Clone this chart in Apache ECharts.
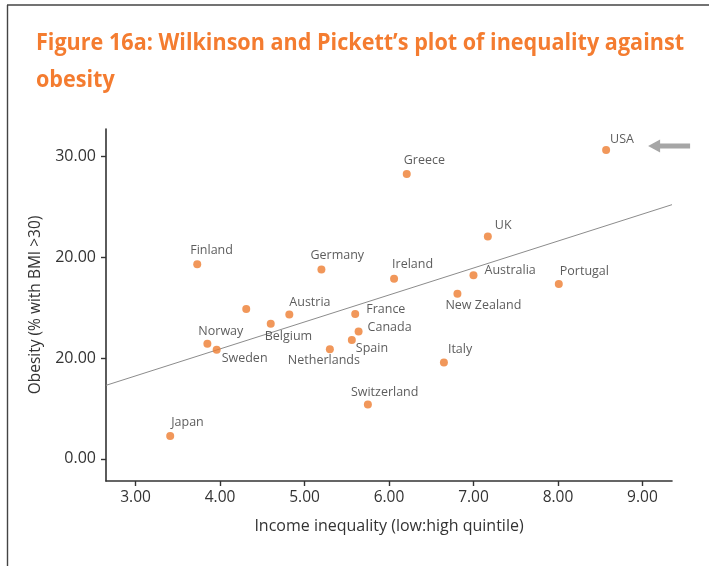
<!DOCTYPE html>
<html><head><meta charset="utf-8">
<script src="https://cdn.jsdelivr.net/npm/echarts@6/dist/echarts.min.js"></script>
<style>html,body{margin:0;padding:0;background:#fff}#c{width:709px;height:566px}</style>
</head><body><div id="c"></div>
<script>
// ---- data ----
const countries = ['USA','Greece','UK','Finland','Germany','Ireland','Australia','Portugal','New Zealand','','Austria','France','Belgium','Canada','Spain','Norway','Sweden','Netherlands','Italy','Switzerland','Japan'];
const income    = [8.57, 6.21, 7.17, 3.73, 5.20, 6.06, 7.00, 8.01, 6.81, 4.31, 4.82, 5.60, 4.60, 5.64, 5.56, 3.85, 3.96, 5.30, 6.65, 5.75, 3.41];
const obesity   = [30.66, 28.27, 22.08, 19.33, 18.80, 17.87, 18.24, 17.35, 16.39, 14.87, 14.33, 14.37, 13.41, 12.64, 11.79, 11.42, 10.82, 10.89, 9.56, 5.39, 2.28];
const xTickValues = [3, 4, 5, 6, 7, 8, 9];
const xTickLabels = ['3.00','4.00','5.00','6.00','7.00','8.00','9.00'];
const yTickValues = [0, 10, 20, 30];
const yTickLabels = ['0.00','20.00','20.00','30.00'];
const titleLines = ['Figure 16a: Wilkinson and Pickett\u2019s plot of inequality against', 'obesity'];
const xAxisName = 'Income inequality (low:high quintile)';
const yAxisName = 'Obesity (% with BMI >30)';

// ---- layout (label offsets from point centre, px) ----
const labelOffsets = {
  'USA':[4,-11], 'Greece':[-3,-14], 'UK':[7,-11], 'Finland':[-7,-14], 'Germany':[-11,-14],
  'Ireland':[-2,-14], 'Australia':[11,-5], 'Portugal':[1,-13], 'New Zealand':[-12,12],
  'Austria':[0,-12], 'France':[11,-5], 'Belgium':[-6,13], 'Canada':[9,-4], 'Spain':[4,8],
  'Norway':[-9,-12], 'Sweden':[5,9], 'Netherlands':[-42,11], 'Italy':[4,-13],
  'Switzerland':[-17,-12], 'Japan':[1,-13], '':[0,0]
};
const X_MIN = 2.65, X_MAX = 9.35, Y_MIN = -2.2, Y_MAX = 32.75;

// least-squares trend line
const n = income.length;
const mx = income.reduce((a,b)=>a+b,0)/n, my = obesity.reduce((a,b)=>a+b,0)/n;
let sxy = 0, sxx = 0;
for (let i=0;i<n;i++){ sxy += (income[i]-mx)*(obesity[i]-my); sxx += (income[i]-mx)**2; }
const slope = sxy/sxx, icpt = my - slope*mx;

const pts = income.map((x,i)=>({
  value:[x, obesity[i]], name: countries[i],
  label:{ show: countries[i] !== '', offset: labelOffsets[countries[i]] }
}));

const FONT = '"Open Sans", "Noto Sans", sans-serif';
const chart = echarts.init(document.getElementById('c'), null, {renderer:'canvas'});
chart.setOption({
  animation:false,
  backgroundColor:'#fff',
  grid:{left:106, right:37, top:129, bottom:85, containLabel:false},
  xAxis:{
    type:'value', min:X_MIN, max:X_MAX,
    name:xAxisName, nameLocation:'middle', nameGap:37,
    nameTextStyle:{fontFamily:FONT, fontSize:16, color:'#333'},
    axisLine:{show:true, onZero:false, lineStyle:{color:'#333', width:1.6}},
    axisTick:{show:true, customValues:xTickValues, length:5, lineStyle:{color:'#333', width:1.4}},
    axisLabel:{customValues:xTickValues, formatter:(v)=>xTickLabels[xTickValues.indexOf(Math.round(v))] || '', fontFamily:FONT, fontSize:15.5, color:'#333', margin:9},
    splitLine:{show:false}
  },
  yAxis:{
    type:'value', min:Y_MIN, max:Y_MAX,
    name:yAxisName, nameLocation:'middle', nameGap:62, nameRotate:90,
    nameTextStyle:{fontFamily:FONT, fontSize:15.5, color:'#333'},
    axisLine:{show:true, onZero:false, lineStyle:{color:'#333', width:1.6}},
    axisTick:{show:true, customValues:yTickValues, length:5, lineStyle:{color:'#333', width:1.4}},
    axisLabel:{customValues:yTickValues, formatter:(v)=>yTickLabels[yTickValues.indexOf(Math.round(v))] || '', fontFamily:FONT, fontSize:16, color:'#333', margin:10},
    splitLine:{show:false}
  },
  series:[
    {
      type:'line', silent:true, symbol:'none', z:1,
      data:[[X_MIN, icpt+slope*X_MIN],[X_MAX, icpt+slope*X_MAX]],
      lineStyle:{color:'#8c8c8c', width:1}
    },
    {
      type:'scatter', symbolSize:8, z:3,
      itemStyle:{color:'#ED7D31'},
      data:pts,
      label:{show:true, position:'inside', formatter:'{b}', align:'left', verticalAlign:'middle',
        fontFamily:FONT, fontSize:12.5, color:'#333'}
    }
  ]
});

// title width fit
const cv = document.createElement('canvas').getContext('2d');
const TFS = 23.5;
cv.font = 'bold ' + TFS + 'px "Open Sans"';
const w1 = cv.measureText(titleLines[0]).width;
const sx = 648 / w1;

const usaIdx = countries.indexOf('USA');
const p = chart.convertToPixel({seriesIndex:1}, [income[usaIdx], obesity[usaIdx]]);
const ax = p[0] + 42, ay = p[1] - 4;

chart.setOption({
  graphic:[
    {type:'line', shape:{x1:7.5, y1:5, x2:7.5, y2:566}, style:{stroke:'#444', lineWidth:1.4}, silent:true},
    {type:'line', shape:{x1:7, y1:5, x2:709, y2:5}, style:{stroke:'#444', lineWidth:1.4}, silent:true},
    {type:'text', x:36, y:43, scaleX:sx, style:{text:titleLines[0], font:'bold '+TFS+'px "Open Sans"', fill:'#F47C30', verticalAlign:'middle'}},
    {type:'text', x:36, y:80.5, scaleX:sx, style:{text:titleLines[1], font:'bold '+TFS+'px "Open Sans"', fill:'#F47C30', verticalAlign:'middle'}},
    {type:'polygon', x:ax, y:ay, silent:true,
      shape:{points:[[0,0],[12,-6.5],[12,-2.5],[42,-2.5],[42,2.5],[12,2.5],[12,6.5]]},
      style:{fill:'#a6a6a6'}}
  ]
});
</script></body></html>
